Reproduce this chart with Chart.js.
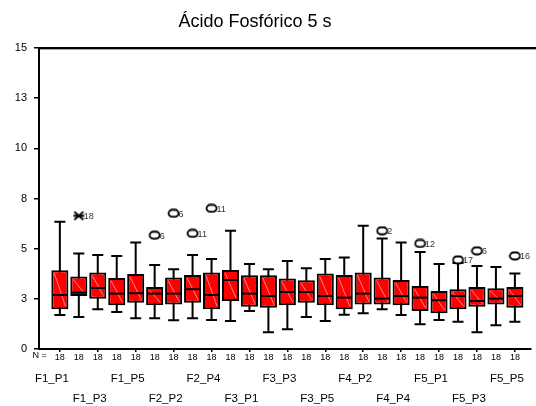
<!DOCTYPE html>
<html>
<head>
<meta charset="utf-8">
<script src="https://cdn.jsdelivr.net/npm/chart.js@4.4.0/dist/chart.umd.min.js"></script>
<style>
  body { margin: 0; background: #fff; }
</style>
</head>
<body>
<canvas id="myChart" width="536" height="406"></canvas>
<script>
const categories = ['F1_P1', 'F1_P2', 'F1_P3', 'F1_P4', 'F1_P5',
    'F2_P1', 'F2_P2', 'F2_P3', 'F2_P4', 'F2_P5',
    'F3_P1', 'F3_P2', 'F3_P3', 'F3_P4', 'F3_P5',
    'F4_P1', 'F4_P2', 'F4_P3', 'F4_P4', 'F4_P5',
    'F5_P1', 'F5_P2', 'F5_P3', 'F5_P4', 'F5_P5'];
const nValues = [18, 18, 18, 18, 18, 18, 18, 18, 18, 18, 18, 18, 18,
    18, 18, 18, 18, 18, 18, 18, 18, 18, 18, 18, 18];

const whiskerLow = [1.69, 1.59, 1.98, 1.84, 1.53, 1.53, 1.43, 1.53, 1.44, 1.39, 1.89, 0.84, 0.98,
    1.59, 1.39, 1.71, 1.78, 1.98, 1.69, 1.23, 1.44, 1.36, 0.84, 1.18, 1.36];
const q1 = [1.98, 2.64, 2.51, 2.18, 2.31, 2.18, 2.22, 2.31, 1.98, 2.39, 2.11, 2.06, 2.18,
    2.31, 2.18, 1.98, 2.22, 2.22, 2.18, 1.89, 1.78, 1.98, 2.11, 2.22, 2.06];
const median = [2.69, 2.81, 3.04, 2.76, 2.78, 2.76, 2.76, 2.98, 2.69, 3.44, 2.76, 2.64, 2.84,
    2.84, 2.64, 2.56, 2.76, 2.51, 2.64, 2.56, 2.43, 2.64, 2.39, 2.51, 2.64];
const q3 = [3.93, 3.61, 3.81, 3.54, 3.74, 3.09, 3.56, 3.69, 3.81, 3.94, 3.68, 3.68, 3.51,
    3.43, 3.76, 3.69, 3.81, 3.56, 3.44, 3.14, 2.89, 2.98, 3.09, 3.03, 3.09];
const whiskerHigh = [6.34, 4.76, 4.69, 4.64, 5.31, 4.18, 3.98, 4.69, 4.48, 5.89, 4.23, 3.98, 4.38,
    4.03, 4.49, 4.56, 6.14, 5.51, 5.31, 4.84, 4.23, 4.28, 4.14, 4.09, 3.76];

// outliers: category index, value, case label, star = extreme
const outlierCat = [1, 5, 6, 7, 8, 17, 19, 21, 22, 24];
const outlierVal = [6.64, 5.67, 6.76, 5.76, 7.01, 5.89, 5.26, 4.44, 4.89, 4.64];
const outlierLabel = ['18', '6', '6', '11', '11', '2', '12', '17', '6', '16'];
const outlierStar = [true, false, false, false, false, false, false, false, false, false];

const yTicks = [0, 2.5, 5, 7.5, 10, 12.5, 15];
const title = 'Ácido Fosfórico 5 s';

const font = '"Liberation Sans", Arial, sans-serif';

// marker images for outliers
function makeCircle() {
    const c = document.createElement('canvas');
    c.width = 13; c.height = 10;
    const g = c.getContext('2d');
    g.fillStyle = '#fff';
    g.strokeStyle = '#000';
    g.lineWidth = 1.8;
    g.beginPath();
    g.roundRect(1.5, 1.5, 10, 7, 3.5);
    g.fill();
    g.stroke();
    return c;
}
function makeStar() {
    const c = document.createElement('canvas');
    c.width = 13; c.height = 11;
    const g = c.getContext('2d');
    g.strokeStyle = '#000';
    g.lineWidth = 1.8;
    g.beginPath();
    g.moveTo(2, 1.5); g.lineTo(11, 9.5);
    g.moveTo(11, 1.5); g.lineTo(2, 9.5);
    g.moveTo(1, 5.5); g.lineTo(12, 5.5);
    g.stroke();
    return c;
}
const circleImg = makeCircle();
const starImg = makeStar();

const boxParts = {
    id: 'boxParts',
    beforeDatasetsDraw(chart) {
        const { ctx } = chart;
        const x = chart.scales.x, y = chart.scales.y;
        ctx.save();
        ctx.strokeStyle = '#000';
        ctx.lineWidth = 2;
        categories.forEach((c, i) => {
            const px = x.getPixelForValue(i);
            ctx.beginPath();
            ctx.moveTo(px, y.getPixelForValue(whiskerLow[i]));
            ctx.lineTo(px, y.getPixelForValue(whiskerHigh[i]));
            [whiskerLow[i], whiskerHigh[i]].forEach(v => {
                const py = y.getPixelForValue(v);
                ctx.moveTo(px - 5.5, py);
                ctx.lineTo(px + 5.5, py);
            });
            ctx.stroke();
        });
        ctx.restore();
    },
    afterDatasetsDraw(chart) {
        const { ctx } = chart;
        const x = chart.scales.x, y = chart.scales.y;
        const bars = chart.getDatasetMeta(0).data;
        ctx.save();
        bars.forEach((bar, i) => {
            const l = bar.x - bar.width / 2, r = bar.x + bar.width / 2;
            const t = y.getPixelForValue(q3[i]), b = y.getPixelForValue(q1[i]);
            // faint hatch line
            ctx.strokeStyle = 'rgba(255,190,190,0.7)';
            ctx.lineWidth = 1;
            ctx.beginPath();
            ctx.moveTo(l + 3, t + 3);
            ctx.lineTo(r - 3, b - 3);
            ctx.stroke();
            // median
            const pm = y.getPixelForValue(median[i]);
            ctx.strokeStyle = '#000';
            ctx.lineWidth = 2;
            ctx.beginPath();
            ctx.moveTo(l + 1, pm);
            ctx.lineTo(r - 1, pm);
            ctx.stroke();
        });
        // outlier labels
        ctx.fillStyle = '#333';
        ctx.font = '9px ' + font;
        ctx.textAlign = 'left';
        ctx.textBaseline = 'middle';
        outlierCat.forEach((c, k) => {
            ctx.fillText(outlierLabel[k], x.getPixelForValue(c) + 5, y.getPixelForValue(outlierVal[k]) + 1);
        });
        ctx.restore();
    },
    afterDraw(chart) {
        const { ctx, chartArea } = chart;
        const x = chart.scales.x;
        ctx.save();
        // top frame line
        ctx.strokeStyle = '#000';
        ctx.lineWidth = 2;
        ctx.beginPath();
        ctx.moveTo(chartArea.left - 1, chartArea.top);
        ctx.lineTo(chart.width, chartArea.top);
        ctx.stroke();
        ctx.strokeStyle = '#aaa';
        ctx.lineWidth = 1;
        ctx.beginPath();
        ctx.moveTo(chartArea.left + 1, chartArea.top + 1.5);
        ctx.lineTo(chart.width, chartArea.top + 1.5);
        ctx.stroke();
        // title
        ctx.fillStyle = '#000';
        ctx.font = '18px ' + font;
        ctx.textAlign = 'center';
        ctx.textBaseline = 'middle';
        ctx.fillText(title, 255, 22);
        // N = and category names
        ctx.font = '9px ' + font;
        ctx.textAlign = 'right';
        ctx.fillText('N =', x.getPixelForValue(0) - 13, chartArea.bottom + 7);
        ctx.font = '11.5px ' + font;
        ctx.textAlign = 'center';
        categories.forEach((c, i) => {
            if (i % 2) return;
            const row = (i % 4 === 0) ? 0 : 1;
            ctx.fillText(c, x.getPixelForValue(i) - 8, chartArea.bottom + 30 + row * 20);
        });
        ctx.restore();
    }
};

const ctx = document.getElementById('myChart').getContext('2d');
const myChart = new Chart(ctx, {
    type: 'bar',
    data: {
        datasets: [{
                type: 'bar',
                data: categories.map((c, i) => ({ x: i, y: [q1[i], q3[i]] })),
                backgroundColor: '#ff0000',
                borderColor: '#000',
                borderWidth: 2,
                borderSkipped: false,
                categoryPercentage: 1,
                barPercentage: 0.9
            },
            {
                type: 'scatter',
                data: outlierCat.map((c, k) => ({ x: c, y: outlierVal[k] })),
                pointStyle: outlierStar.map(s => s ? starImg : circleImg),
                showLine: false
            }
        ]
    },
    options: {
        responsive: false,
        devicePixelRatio: 1,
        animation: false,
        layout: { padding: { top: 48, left: 0, right: 0, bottom: 0 } },
        plugins: {
            legend: { display: false },
            tooltip: { enabled: false },
            title: { display: false }
        },
        scales: {
            x: {
                type: 'linear',
                min: -1.1,
                max: 24.85,
                offset: false,
                afterFit: (s) => { s.height = 57; },
                afterBuildTicks: (s) => { s.ticks = categories.map((c, i) => ({ value: i })); },
                grid: {
                    offset: false,
                    drawOnChartArea: false,
                    tickLength: 3,
                    lineWidth: 1.5,
                    tickColor: (c) => (c.index % 2 === 0 ? '#000' : 'rgba(0,0,0,0)')
                },
                border: { color: '#000', width: 2 },
                ticks: {
                    autoSkip: false,
                    maxRotation: 0,
                    padding: 0,
                    color: '#000',
                    font: { size: 9, family: font },
                    callback: (v, i) => String(nValues[i])
                }
            },
            y: {
                min: 0,
                max: 15,
                afterFit: (s) => { s.width = 39; },
                afterBuildTicks: (s) => { s.ticks = yTicks.map(v => ({ value: v })); },
                grid: {
                    drawOnChartArea: false,
                    tickLength: 5,
                    lineWidth: 1.5,
                    tickColor: '#000'
                },
                border: { color: '#000', width: 2 },
                ticks: {
                    padding: 7,
                    color: '#000',
                    font: { size: 11, family: font },
                    callback: (v) => String(Math.round(v))
                }
            }
        }
    },
    plugins: [boxParts]
});
</script>
</body>
</html>
